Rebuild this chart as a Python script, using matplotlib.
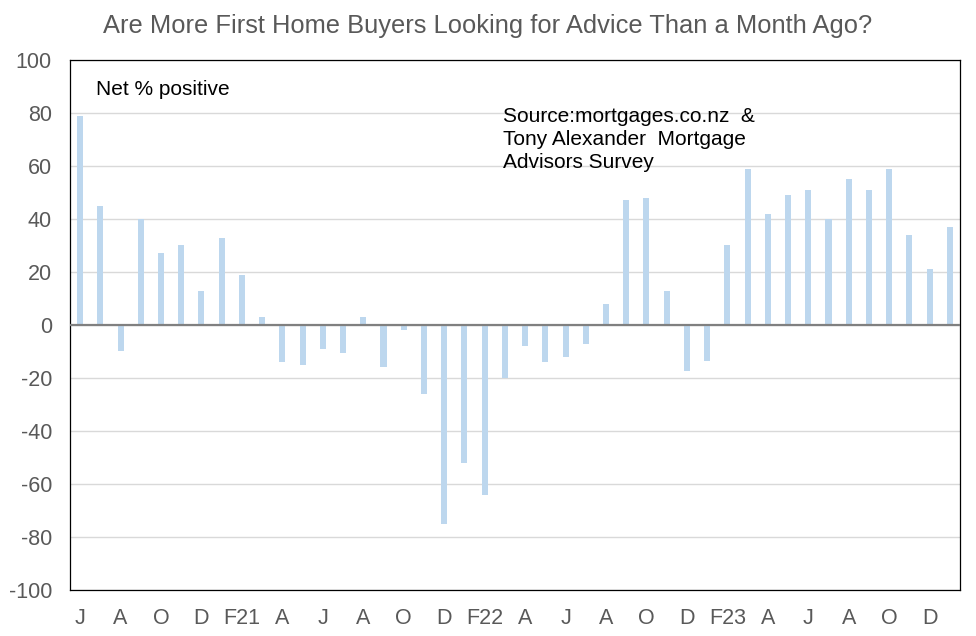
"""First home buyers seeking advice — net % positive, monthly bars"""

import matplotlib
matplotlib.use("Agg")
import matplotlib.pyplot as plt
import numpy as np

plt.rcParams['font.family'] = ['Liberation Sans', 'DejaVu Sans']
plt.rcParams['axes.unicode_minus'] = False

# Jun 2020 .. Jan 2024, one value per month
values = [79, 45, -10, 40, 27, 30, 13, 33, 19, 3,
          -14, -15, -9, -10.5, 3, -16, -2, -26, -75, -52,
          -64, -20, -8, -14, -12, -7, 8, 47, 48, 13,
          -17.5, -13.5, 30, 59, 42, 49, 51, 40, 55, 51,
          59, 34, 21, 37]

# every second month gets a label
tick_labels = ['J', 'A', 'O', 'D', 'F21', 'A', 'J', 'A', 'O', 'D',
               'F22', 'A', 'J', 'A', 'O', 'D', 'F23', 'A', 'J', 'A',
               'O', 'D']

TITLE = 'Are More First Home Buyers Looking for Advice Than a Month Ago?'
NOTE = 'Net % positive'
SOURCE = 'Source:mortgages.co.nz  &\nTony Alexander  Mortgage\nAdvisors Survey'

BAR_COLOR = '#bdd7ee'
GRID_COLOR = '#d9d9d9'
LABEL_COLOR = '#595959'


def main():
    fig = plt.figure(figsize=(9.76, 6.36), dpi=100)
    ax = fig.add_axes([0.0717, 0.0723, 0.9119, 0.8334])

    x = np.arange(len(values))
    ax.bar(x, values, width=0.3, color=BAR_COLOR, zorder=2)
    ax.axhline(0, color='#808080', linewidth=1.6, zorder=3)

    ax.set_xlim(-0.5, len(values) - 0.5)
    ax.set_ylim(-100, 100)
    ax.set_yticks(np.arange(-100, 101, 20))
    ax.set_xticks(x[::2][:len(tick_labels)])
    ax.set_xticklabels(tick_labels)

    ax.grid(axis='y', color=GRID_COLOR, linewidth=1, zorder=0)
    ax.set_axisbelow(True)
    ax.tick_params(axis='both', length=0, labelsize=15.5, labelcolor=LABEL_COLOR)
    ax.tick_params(axis='x', pad=13)
    ax.tick_params(axis='y', pad=13)
    for sp in ax.spines.values():
        sp.set_color('#000000')
        sp.set_linewidth(0.9)

    ax.text(0.029, 0.945, NOTE, transform=ax.transAxes, fontsize=15,
            va='center', ha='left', color='black')
    ax.text(0.4865, 0.912, SOURCE, transform=ax.transAxes, fontsize=15,
            va='top', ha='left', color='black', linespacing=1.28)

    fig.text(0.5, 0.959, TITLE, ha='center', va='center', fontsize=18.4,
             color=LABEL_COLOR)

    fig.savefig('out.png', dpi=100)
    plt.close(fig)


if __name__ == "__main__":
    main()
